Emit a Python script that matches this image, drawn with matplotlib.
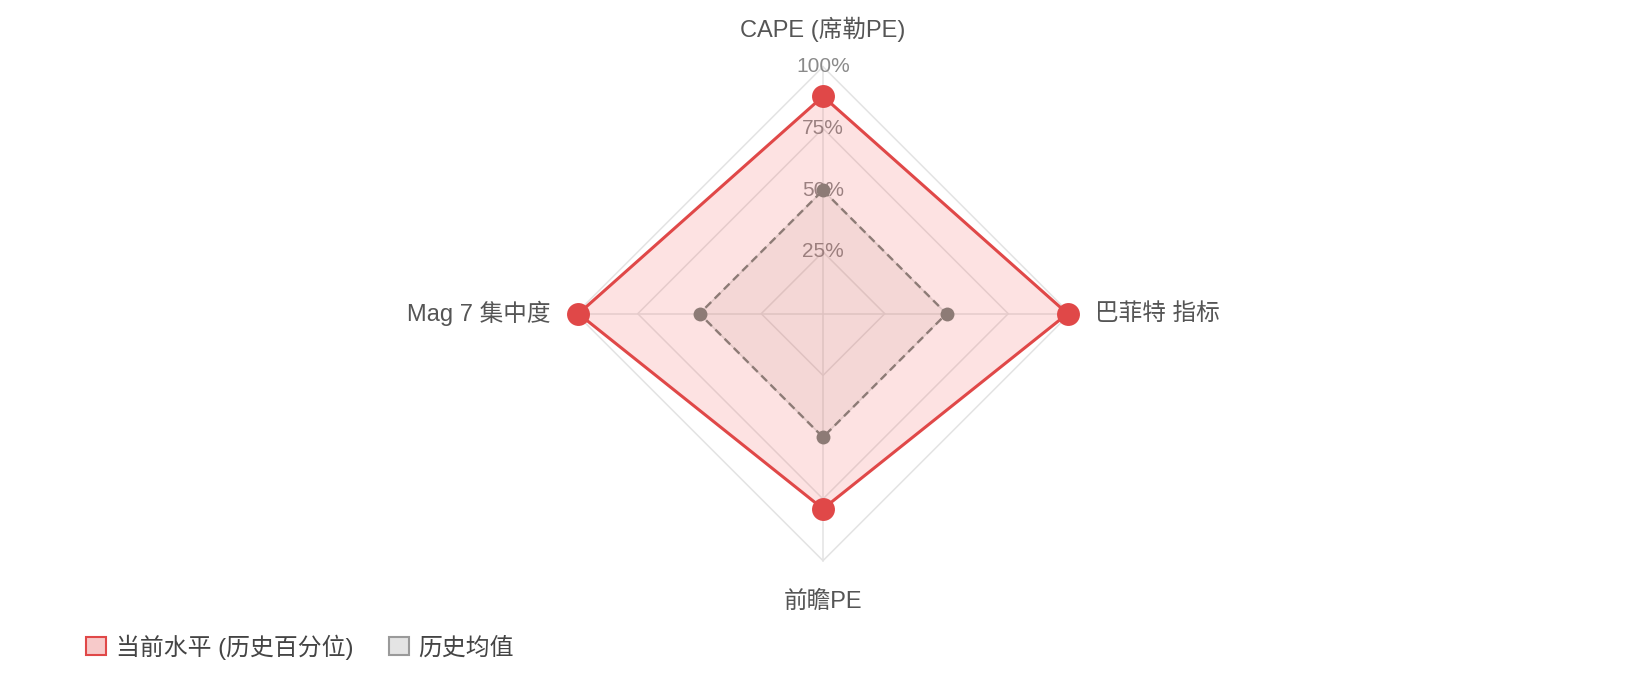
import numpy as np
import matplotlib
matplotlib.use("Agg")
import matplotlib.pyplot as plt
from matplotlib.patches import Patch

# ---- data ----
categories = ["CAPE (席勒PE)", "巴菲特 指标", "前瞻PE", "Mag 7 集中度"]
current_pct = [88, 99, 79, 99]
hist_avg = [50, 50, 50, 50]
tick_values = [25, 50, 75, 100]
tick_labels = ["25%", "50%", "75%", "100%"]
series_names = ["当前水平 (历史百分位)", "历史均值"]

FONT = ["Liberation Sans", "Noto Sans CJK SC", "DejaVu Sans"]
plt.rcParams["font.family"] = FONT

RED = "#e04848"
RED_FILL = (245 / 255, 80 / 255, 80 / 255, 0.16)
GRAY = "#8d7b76"
GRID = "#e3e3e3"

W, H, DPI = 1648, 686, 100
fig = plt.figure(figsize=(W / DPI, H / DPI), dpi=DPI)
fig.patch.set_facecolor("white")

cx, cy, R = 823, 686 - 313.7, 247
ax = fig.add_axes([(cx - R) / W, (cy - R) / H, 2 * R / W, 2 * R / H], projection="polar")
ax.set_theta_offset(np.pi / 2)
ax.set_theta_direction(-1)
ax.set_ylim(0, 100)
ax.grid(False)
ax.set_xticks([])
ax.set_yticks([])
ax.spines["polar"].set_visible(False)
ax.patch.set_alpha(0)

n = len(categories)
angles = np.linspace(0, 2 * np.pi, n, endpoint=False)
closed = np.append(angles, angles[0])

# grid polygons and spokes
for t in tick_values:
    ax.plot(closed, [t] * (n + 1), color=GRID, lw=1.1, zorder=1, clip_on=False)
for a in angles:
    ax.plot([a, a], [0, 100], color=GRID, lw=1.1, zorder=1, clip_on=False)

# tick labels along the top axis
for t, lab in zip(tick_values, tick_labels):
    ax.text(0, t, lab, ha="center", va="center", fontsize=15, color="#8a8a8a", zorder=2)

# historical average
hv = np.append(hist_avg, hist_avg[0])
ax.fill(closed, hv, color="#9a8070", alpha=0.10, zorder=3, lw=0, clip_on=False)
ax.plot(closed, hv, color=GRAY, lw=1.7, linestyle=(0, (3.4, 2.1)), zorder=4, clip_on=False)
ax.plot(angles, hist_avg, "o", color=GRAY, ms=10, zorder=6, mew=0, clip_on=False)

# current level
cv = np.append(current_pct, current_pct[0])
ax.fill(closed, cv, facecolor=RED_FILL, zorder=3, lw=0, clip_on=False)
ax.plot(closed, cv, color=RED, lw=2.2, zorder=5, clip_on=False)
ax.plot(angles, current_pct, "o", color=RED, ms=16.5, zorder=7, mew=0, clip_on=False)

# category labels
label_pos = [
    (115.0, "center", "center"),
    (110.2, "left", "center"),
    (116.6, "center", "center"),
    (110.2, "right", "center"),
]
for a, txt, (r, ha, va) in zip(angles, categories, label_pos):
    ax.text(a, r, txt, ha=ha, va=va, fontsize=17, color="#555555", clip_on=False)

# legend
handles = [
    Patch(facecolor="#f7caca", edgecolor=RED, lw=1.5, label=series_names[0]),
    Patch(facecolor="#e4e4e4", edgecolor="#9a9a9a", lw=1.5, label=series_names[1]),
]
fs = 17.2
fpx = fs * DPI / 72
leg = fig.legend(
    handles=handles,
    loc="center left",
    bbox_to_anchor=(86 / W, (H - 647) / H),
    ncol=2,
    frameon=False,
    fontsize=fs,
    handlelength=20 / fpx,
    handleheight=19 / fpx,
    handletextpad=10 / fpx,
    columnspacing=35 / fpx,
    borderpad=0,
    borderaxespad=0,
)
for t in leg.get_texts():
    t.set_color("#444444")

fig.savefig("out.png", dpi=DPI, facecolor=fig.get_facecolor())
